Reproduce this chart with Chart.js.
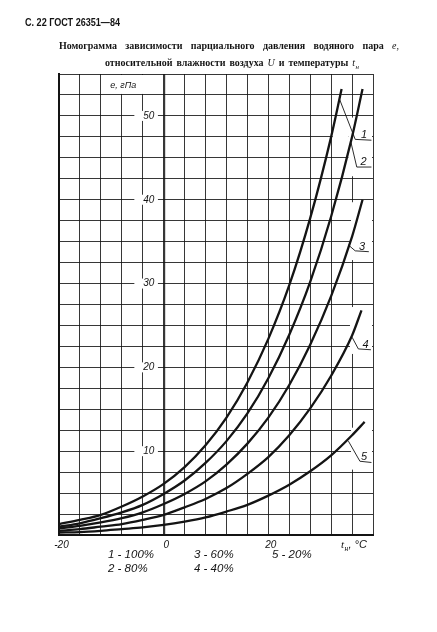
<!DOCTYPE html>
<html>
<head>
<meta charset="utf-8">
<script src="https://cdn.jsdelivr.net/npm/chart.js@4.4.0/dist/chart.umd.min.js"></script>
<style>
html, body { margin: 0; padding: 0; background: #fff; }
#nomogram { display: block; }
</style>
</head>
<body>
<canvas id="nomogram" width="437" height="632"></canvas>
<script>
// temperature of outside air, °C (grid columns)
var temperatures = [-20, -16, -12, -8, -4, 0, 4, 8, 12, 16, 20, 24, 28, 32, 36];

// partial pressure of water vapour e, hPa
var humidity100 = [1.3, 1.8, 2.4, 3.4, 4.6, 6.1, 8.1, 10.7, 14.0, 18.2, 23.4, 29.8, 37.8, 47.5];
var humidity80 = [1.0, 1.4, 2.0, 2.7, 3.6, 4.9, 6.5, 8.6, 11.2, 14.5, 18.7, 23.9, 30.2, 38.0, 47.5];
var humidity60 = [0.8, 1.1, 1.5, 2.0, 2.7, 3.7, 4.9, 6.4, 8.4, 10.9, 14.0, 17.9, 22.7, 28.5, 35.6];
var humidity40 = [0.5, 0.7, 1.0, 1.3, 1.8, 2.4, 3.3, 4.3, 5.6, 7.3, 9.3, 11.9, 15.1, 19.0, 23.8];
var humidity20 = [0.3, 0.35, 0.5, 0.7, 0.9, 1.2, 1.6, 2.1, 2.8, 3.6, 4.7, 6.0, 7.6, 9.5, 11.9];

// last drawn point of every curve
var curveEndTemps = [34.0, 38.0, 38.0, 37.8, 38.4];
var curveEndValues = [53.2, 53.2, 40.0, 26.8, 13.5];

var curveNumbers = ['1', '2', '3', '4', '5'];
var legendItems = ['1 - 100%', '2 - 80%', '3 - 60%', '4 - 40%', '5 - 20%'];
var xTickLabels = [-20, 0, 20];
var yTickLabels = [10, 20, 30, 40, 50];

var ink = '#141414';

// leader lines from curve to its number: start, bend, end (in t, e)
var leaders = [
    [[33.6, 52.0], [36.6, 47.2], [39.7, 47.1]],
    [[35.8, 46.8], [36.9, 43.9], [39.7, 43.9]],
    [[35.3, 34.6], [36.6, 33.9], [39.2, 33.8]],
    [[36.0, 23.6], [37.2, 22.2], [39.6, 22.1]],
    [[35.3, 11.2], [37.5, 8.8], [39.7, 8.65]]
];
var numberAt = [38.3, 38.2, 37.9, 38.6, 38.3];

// blank cells in the grid where the numbers sit: t0, t1, e0, e1
var labelBoxes = [
    [35.3, 40, 42.8, 49.8],
    [32.3, 35.3, 46.9, 48.1],
    [35.8, 40, 32.8, 39.7],
    [35.6, 40, 21.6, 27.2],
    [35.8, 40, 7.8, 12.8]
];

function buildCurve(values, i) {
    var pts = values.map(function (v, k) { return { x: temperatures[k], y: v }; });
    pts.push({ x: curveEndTemps[i], y: curveEndValues[i] });
    return pts;
}

function fillBox(ctx, x0, y0, x1, y1) {
    ctx.fillRect(x0, y0, x1 - x0, y1 - y0);
}

// draws "t" with a small subscript "н", returns width used
function drawTn(ctx, x, y, size, tail) {
    ctx.font = 'italic ' + size + 'px "Liberation Serif"';
    ctx.fillText('t', x, y);
    var w = ctx.measureText('t').width;
    ctx.font = 'italic ' + (size * 0.7) + 'px "Liberation Serif"';
    ctx.fillText('н', x + w + 0.5, y + 3);
    w += ctx.measureText('н').width + 0.5;
    if (tail) {
        ctx.font = 'italic ' + size + 'px "Liberation Sans"';
        ctx.fillText(tail, x + w, y);
        w += ctx.measureText(tail).width;
    }
    return w;
}

// spread words over [left, right] like the typeset heading
function drawJustified(ctx, words, left, right, baseline, size) {
    var widths = words.map(function (w) {
        ctx.font = (w.italic ? 'italic ' : 'bold ') + size + 'px "Liberation Serif"';
        if (w.tn) return ctx.measureText('t').width + 5;
        return ctx.measureText(w.text).width;
    });
    var total = widths.reduce(function (a, b) { return a + b; }, 0);
    var gap = (right - left - total) / (words.length - 1);
    var sx = 1;
    if (gap < 3) {
        gap = 3;
        sx = (right - left - gap * (words.length - 1)) / total;
    }
    var x = left;
    words.forEach(function (w, i) {
        ctx.save();
        ctx.translate(x, baseline);
        ctx.scale(sx, 1);
        if (w.tn) {
            drawTn(ctx, 0, 0, size, '');
        } else {
            ctx.font = (w.italic ? 'italic ' : 'bold ') + size + 'px "Liberation Serif"';
            ctx.fillText(w.text, 0, 0);
        }
        ctx.restore();
        x += widths[i] * sx + gap;
    });
}

var nomogramDecor = {
    id: 'nomogramDecor',
    beforeDatasetsDraw: function (chart) {
        var ctx = chart.ctx, xs = chart.scales.x, ys = chart.scales.y;
        ctx.save();
        ctx.fillStyle = '#fff';
        // merged header cell holding the unit
        fillBox(ctx, xs.getPixelForValue(-12) + 1, ys.getPixelForValue(55) + 1,
            xs.getPixelForValue(0) - 1.5, ys.getPixelForValue(52.5) - 1);
        // breaks in the grid behind the pressure values
        yTickLabels.forEach(function (v) {
            var py = ys.getPixelForValue(v);
            fillBox(ctx, xs.getPixelForValue(-5.6), py - 5, xs.getPixelForValue(-1.1), py + 5);
        });
        // empty cells round the curve numbers
        labelBoxes.forEach(function (b) {
            fillBox(ctx, xs.getPixelForValue(b[0]), ys.getPixelForValue(b[3]),
                Math.min(xs.getPixelForValue(b[1]), chart.chartArea.right - 1), ys.getPixelForValue(b[2]));
        });
        ctx.restore();
    },
    afterDraw: function (chart) {
        var ctx = chart.ctx, xs = chart.scales.x, ys = chart.scales.y;
        var area = chart.chartArea;
        ctx.save();
        ctx.fillStyle = ink;
        ctx.strokeStyle = ink;

        // leaders and curve numbers
        ctx.lineWidth = 0.9;
        leaders.forEach(function (l, i) {
            ctx.beginPath();
            l.forEach(function (p, k) {
                var px = xs.getPixelForValue(p[0]), py = ys.getPixelForValue(p[1]);
                if (k === 0) ctx.moveTo(px, py); else ctx.lineTo(px, py);
            });
            ctx.stroke();
            ctx.font = 'italic 11px "Liberation Sans"';
            ctx.textAlign = 'center';
            ctx.textBaseline = 'alphabetic';
            ctx.fillText(curveNumbers[i], xs.getPixelForValue(numberAt[i]), ys.getPixelForValue(l[2][1]) - 2);
        });

        // unit of the vertical scale
        ctx.font = 'italic 9px "Liberation Sans"';
        ctx.textAlign = 'left';
        ctx.fillText('е, гПа', xs.getPixelForValue(-10.2), ys.getPixelForValue(55) + 14);

        // pressure values
        ctx.font = 'italic 10px "Liberation Sans"';
        ctx.textBaseline = 'middle';
        yTickLabels.forEach(function (v) {
            ctx.fillText(String(v), xs.getPixelForValue(-4) + 0.5, ys.getPixelForValue(v));
        });

        // temperature values
        ctx.textBaseline = 'alphabetic';
        ctx.textAlign = 'center';
        xTickLabels.forEach(function (v) {
            ctx.fillText(String(v), xs.getPixelForValue(v) + 2.5, area.bottom + 13);
        });
        ctx.textAlign = 'left';
        drawTn(ctx, xs.getPixelForValue(36) - 11, area.bottom + 13, 11, ', °C');

        // legend of relative humidity
        ctx.font = 'italic 11.5px "Liberation Sans"';
        var legendPos = [[108, 558], [108, 572], [194, 558], [194, 572], [272, 558]];
        legendItems.forEach(function (t, i) {
            ctx.fillText(t, legendPos[i][0], legendPos[i][1]);
        });

        // page header
        ctx.font = 'bold 11px "Liberation Sans"';
        var head = 'С. 22 ГОСТ 26351—84';
        var hw = ctx.measureText(head).width;
        ctx.save();
        ctx.translate(25, 26);
        ctx.scale(95 / hw, 1);
        ctx.fillText(head, 0, 0);
        ctx.restore();

        // caption
        drawJustified(ctx, [
            { text: 'Номограмма' }, { text: 'зависимости' }, { text: 'парциального' },
            { text: 'давления' }, { text: 'водяного' }, { text: 'пара' }, { text: 'е,', italic: true }
        ], 59, 399, 48.5, 10);
        drawJustified(ctx, [
            { text: 'относительной' }, { text: 'влажности' }, { text: 'воздуха' },
            { text: 'U', italic: true }, { text: 'и' }, { text: 'температуры' }, { tn: true, italic: true }
        ], 105, 360, 66, 10);
        ctx.restore();
    }
};

var datasets = [humidity100, humidity80, humidity60, humidity40, humidity20].map(function (vals, i) {
    return {
        label: legendItems[i],
        data: buildCurve(vals, i),
        borderColor: ink,
        borderWidth: 2.3,
        pointRadius: 0,
        fill: false,
        cubicInterpolationMode: 'monotone'
    };
});

var ctx = document.getElementById('nomogram').getContext('2d');
var chart = new Chart(ctx, {
    type: 'line',
    data: { datasets: datasets },
    options: {
        responsive: false,
        animation: false,
        events: [],
        layout: { padding: { left: 59, right: 64, top: 74, bottom: 97 } },
        plugins: { legend: { display: false }, tooltip: { enabled: false } },
        scales: {
            x: {
                type: 'linear',
                min: -20,
                max: 40,
                ticks: { stepSize: 4, display: false, maxTicksLimit: 100 },
                grid: {
                    color: 'rgba(20,20,20,0.85)',
                    lineWidth: function (c) { return c.tick && c.tick.value === 0 ? 2.2 : 1; },
                    drawTicks: false
                },
                border: { display: true, color: ink, width: 2 }
            },
            y: {
                min: 0,
                max: 55,
                ticks: { stepSize: 2.5, display: false, maxTicksLimit: 100 },
                grid: { color: 'rgba(20,20,20,0.85)', lineWidth: 1, drawTicks: false },
                border: { display: true, color: ink, width: 2 }
            }
        }
    },
    plugins: [nomogramDecor]
});
</script>
</body>
</html>
